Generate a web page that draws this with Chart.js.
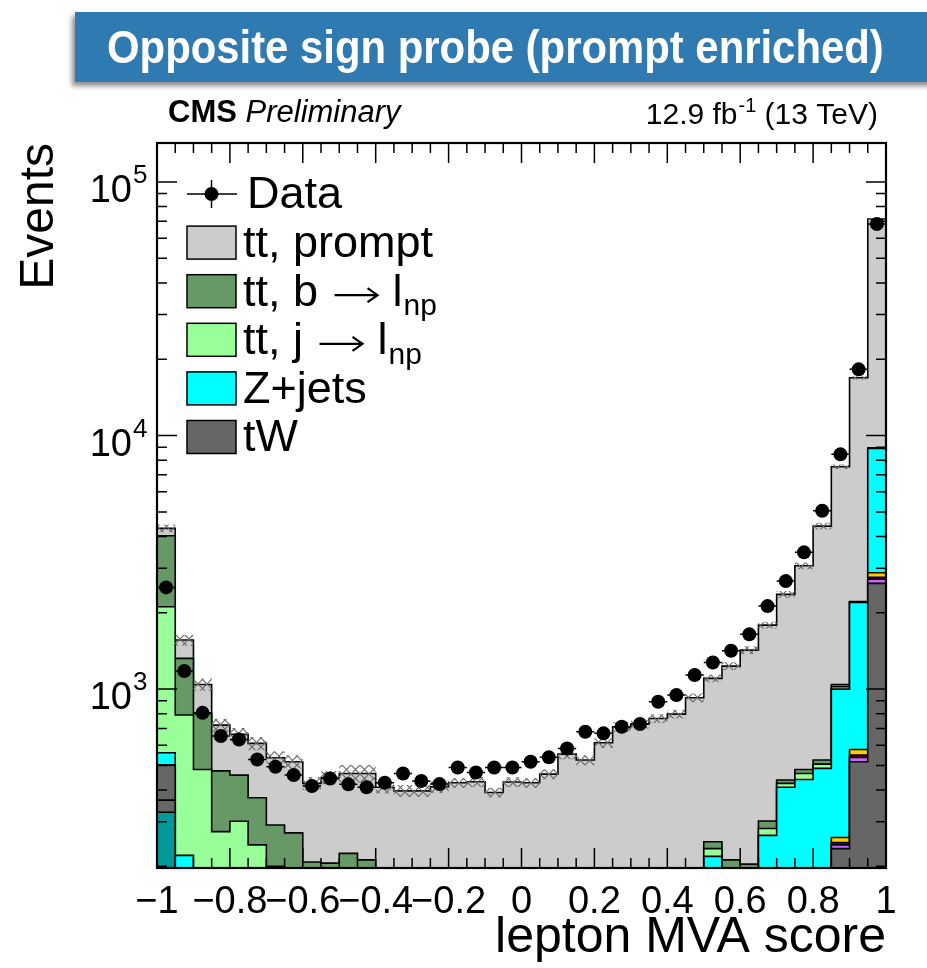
<!DOCTYPE html>
<html>
<head>
<meta charset="utf-8">
<script src="https://cdn.jsdelivr.net/npm/chart.js@4.4.1/dist/chart.umd.min.js"></script>
<style>
  html, body { margin: 0; padding: 0; background: #fff; }
  #wrap { position: relative; width: 927px; height: 968px; overflow: hidden; }
  #banner {
    position: absolute; left: 75px; top: 12px; width: 880px; height: 70px;
    background: #2f7ab0; box-shadow: -3px 4px 5px rgba(0,0,0,0.45);
    color: #fff; font: bold 46px "Liberation Sans", Arial, sans-serif; line-height: 70px;
  }
  #banner span { position: absolute; left: 32px; top: 0; white-space: nowrap; transform: scaleX(0.91); transform-origin: left center; }
  #chart { position: absolute; left: 0; top: 0; }
</style>
</head>
<body>
<div id="wrap">
  <canvas id="chart" width="927" height="968"></canvas>
  <div id="banner"><span>Opposite sign probe (prompt enriched)</span></div>
</div>
<script>
// ビン境界 (lepton MVA score)
const binEdges = [-1, -0.95, -0.9, -0.85, -0.8, -0.75, -0.7, -0.65, -0.6, -0.55,
  -0.5, -0.45, -0.4, -0.35, -0.3, -0.25, -0.2, -0.15, -0.1, -0.05,
  0, 0.05, 0.1, 0.15, 0.2, 0.25, 0.3, 0.35, 0.4, 0.45,
  0.5, 0.55, 0.6, 0.65, 0.7, 0.75, 0.8, 0.85, 0.9, 0.95, 1];
const xMajorTicks = [-1, -0.8, -0.6, -0.4, -0.2, 0, 0.2, 0.4, 0.6, 0.8, 1];
const yDecades = [1e3, 1e4, 1e5];
const yRange = [197, 142500];

// データ
const dataCounts = [2518, 1178, 806, 653, 633, 528, 494, 458, 415, 444,
  421, 410, 427, 465, 434, 422, 491, 469, 491, 491,
  517, 538, 583, 679, 669, 710, 728, 891, 947, 1136,
  1274, 1416, 1644, 2125, 2667, 3462, 5051, 8431, 18240, 68300];

// MC 成分 (下から積み上げ)
const otherTeal = [327, 0, 0, 0, 0, 0, 0, 0, 0, 0, 0, 0, 0, 0, 0, 0, 0, 0, 0, 0,
  0, 0, 0, 0, 0, 0, 0, 0, 0, 0, 0, 0, 0, 0, 0, 0, 0, 0, 0, 0];
const otherGrey = [38, 0, 0, 0, 0, 0, 0, 0, 0, 0, 0, 0, 0, 0, 0, 0, 0, 0, 0, 0,
  0, 0, 0, 0, 0, 0, 0, 0, 0, 0, 0, 0, 0, 0, 0, 0, 0, 0, 0, 0];
const tW = [136, 70, 0, 0, 0, 0, 0, 0, 0, 0, 0, 0, 0, 0, 0, 0, 0, 0, 0, 0,
  0, 0, 0, 0, 0, 0, 0, 0, 0, 0, 30, 0, 0, 30, 40, 50, 80, 235, 517, 2612];
const otherViolet = [0, 0, 0, 0, 0, 0, 0, 0, 0, 0, 0, 0, 0, 0, 0, 0, 0, 0, 0, 0,
  0, 0, 0, 0, 0, 0, 0, 0, 0, 0, 0, 0, 0, 0, 0, 0, 0, 8, 21, 104];
const otherRed = [0, 0, 0, 0, 0, 0, 0, 0, 0, 0, 0, 0, 0, 0, 0, 0, 0, 0, 0, 0,
  0, 0, 0, 0, 0, 0, 0, 0, 0, 0, 0, 0, 0, 0, 0, 0, 0, 5, 11, 42];
const otherOrange = [0, 0, 0, 0, 0, 0, 0, 0, 0, 0, 0, 0, 0, 0, 0, 0, 0, 0, 0, 0,
  0, 0, 0, 0, 0, 0, 0, 0, 0, 0, 0, 0, 0, 0, 0, 0, 0, 12, 29, 118];
const zJets = [60, 151, 0, 0, 0, 0, 0, 0, 0, 0, 0, 0, 0, 0, 0, 0, 0, 0, 0, 0,
  20, 30, 40, 50, 60, 70, 90, 110, 130, 150, 189, 150, 160, 235, 370, 390, 407, 740, 1620, 6027];
const ttJet = [1551, 569, 482, 274, 301, 243, 200, 110, 90, 80, 70, 60, 50, 40, 40, 30, 30, 30, 25, 25,
  25, 25, 25, 25, 25, 25, 25, 25, 20, 20, 16, 30, 20, 17, 15, 25, 19, 21, 10, 20];
const ttB = [1913, 532, 320, 202, 157, 130, 91, 161, 118, 126, 155, 152, 100, 90, 80, 80, 70, 60, 55, 55,
  50, 50, 50, 50, 50, 50, 50, 45, 40, 20, 15, 32, 24, 20, 13, 17, 19, 22, 8, 20];
const ttPrompt = [280, 239, 241, 245, 205, 238, 245, 246, 217, 242, 240, 253, 260, 267, 277, 302, 327, 341, 311, 350,
  332, 357, 439, 400, 479, 565, 563, 586, 607, 734, 852, 1020, 1221, 1486, 1926, 2582, 3870, 6489, 14684, 62507];
// MC 統計誤差 (相対)
const mcRelUnc = [0.035, 0.05, 0.055, 0.06, 0.06, 0.06, 0.06, 0.06, 0.06, 0.06,
  0.08, 0.08, 0.055, 0.055, 0.055, 0.055, 0.045, 0.045, 0.045, 0.045,
  0.045, 0.045, 0.045, 0.045, 0.045, 0.045, 0.04, 0.04, 0.04, 0.04,
  0.035, 0.035, 0.035, 0.03, 0.03, 0.03, 0.03, 0.02, 0.015, 0.01];

document.addEventListener('DOMContentLoaded', function() {
    const FONT = '"Liberation Sans", Arial, Helvetica, "DejaVu Sans", sans-serif';
    const FLOOR = 1; // ログ軸で 0 を描かないための下限
    const nBins = dataCounts.length;

    const layers = [
        { values: otherTeal, color: '#009999' },
        { values: otherGrey, color: '#666666' },
        { values: tW, color: '#666666' },
        { values: otherViolet, color: '#cc66ff' },
        { values: otherRed, color: '#990000' },
        { values: otherOrange, color: '#ffcc00' },
        { values: zJets, color: '#00ffff' },
        { values: ttJet, color: '#99ff99' },
        { values: ttB, color: '#669966' },
        { values: ttPrompt, color: '#cccccc' }
    ];

    const legendItems = [
        { text: 'tt, prompt', color: '#cccccc' },
        { text: 'tt, b', arrow: true, sub: 'np', color: '#669966' },
        { text: 'tt, j', arrow: true, sub: 'np', color: '#99ff99' },
        { text: 'Z+jets', color: '#00ffff' },
        { text: 'tW', color: '#666666' }
    ];

    /**
     * ビン値をステップ線用の点列にする
     */
    function stepPoints(arr) {
        return binEdges.map((e, i) => ({ x: e, y: Math.max(arr[Math.min(i, nBins - 1)], FLOOR) }));
    }

    /**
     * ハッチ模様を作る
     */
    function makeHatch() {
        const c = document.createElement('canvas');
        c.width = 9; c.height = 9;
        const g = c.getContext('2d');
        g.strokeStyle = '#6a6a6a';
        g.lineWidth = 1.2;
        g.beginPath();
        g.moveTo(0, 0); g.lineTo(9, 9);
        g.moveTo(9, 0); g.lineTo(0, 9);
        g.stroke();
        return g.createPattern(c, 'repeat');
    }

    // 積み上げ
    let running = new Array(nBins).fill(0);
    const cumul = layers.map(l => {
        running = running.map((s, i) => s + l.values[i]);
        return running.slice();
    });
    const total = cumul[cumul.length - 1];

    const datasets = [];
    datasets.push({
        data: dataCounts.map((n, i) => ({ x: (binEdges[i] + binEdges[i + 1]) / 2, y: n })),
        showLine: false,
        pointRadius: 7,
        pointBackgroundColor: '#000',
        pointBorderColor: '#000',
        pointBorderWidth: 0,
        order: 0
    });
    datasets.push({
        data: stepPoints(total.map((t, i) => t * (1 + mcRelUnc[i]))),
        stepped: 'before',
        borderWidth: 0,
        pointRadius: 0,
        fill: '+1',
        backgroundColor: makeHatch(),
        order: 1
    });
    datasets.push({
        data: stepPoints(total.map((t, i) => t * (1 - mcRelUnc[i]))),
        stepped: 'before',
        borderWidth: 0,
        pointRadius: 0,
        fill: false,
        order: 2
    });
    layers.forEach((l, k) => {
        datasets.push({
            data: stepPoints(cumul[k]),
            stepped: 'before',
            borderColor: '#000',
            borderWidth: 1.6,
            pointRadius: 0,
            fill: 'start',
            backgroundColor: l.color,
            order: 3 + k
        });
    });

    // ROOT 風の目盛り・凡例・ラベル
    const rootDecor = {
        id: 'rootDecor',
        afterDatasetsDraw(chart) {
            const { ctx, chartArea: a, scales: { x, y } } = chart;
            ctx.save();
            ctx.strokeStyle = '#000';

            // データ誤差棒
            ctx.lineWidth = 1.5;
            dataCounts.forEach((n, i) => {
                const yc = y.getPixelForValue(n);
                const x0 = x.getPixelForValue(binEdges[i]);
                const x1 = x.getPixelForValue(binEdges[i + 1]);
                const xc = (x0 + x1) / 2;
                const e = Math.sqrt(n);
                ctx.beginPath();
                ctx.moveTo(x0, yc); ctx.lineTo(x1, yc);
                ctx.moveTo(xc, y.getPixelForValue(n + e)); ctx.lineTo(xc, y.getPixelForValue(n - e));
                ctx.stroke();
            });

            // x 目盛り
            ctx.lineWidth = 1.5;
            ctx.beginPath();
            binEdges.forEach(e => {
                const px = x.getPixelForValue(e);
                const len = xMajorTicks.some(t => Math.abs(t - e) < 1e-9) ? 20 : 10;
                ctx.moveTo(px, a.bottom); ctx.lineTo(px, a.bottom - len);
                ctx.moveTo(px, a.top); ctx.lineTo(px, a.top + len);
            });
            // y 目盛り
            for (let p = 2; p <= 5; p++) {
                for (let k = 1; k <= 9; k++) {
                    const v = k * Math.pow(10, p);
                    if (v < yRange[0] || v > yRange[1]) continue;
                    const py = y.getPixelForValue(v);
                    const len = k === 1 ? 20 : 10;
                    ctx.moveTo(a.left, py); ctx.lineTo(a.left + len, py);
                    ctx.moveTo(a.right, py); ctx.lineTo(a.right - len, py);
                }
            }
            ctx.stroke();

            // 枠
            ctx.lineWidth = 2.2;
            ctx.strokeRect(a.left, a.top, a.right - a.left, a.bottom - a.top);
            ctx.restore();
        },
        afterDraw(chart) {
            const { ctx, scales: { y } } = chart;
            ctx.save();
            ctx.fillStyle = '#000';
            ctx.strokeStyle = '#000';

            // y ラベル 10^n
            yDecades.forEach(v => {
                const py = y.getPixelForValue(v);
                ctx.font = '38px ' + FONT;
                ctx.textAlign = 'right';
                ctx.textBaseline = 'alphabetic';
                ctx.fillText('10', 132, py + 20);
                ctx.font = '26px ' + FONT;
                ctx.textAlign = 'left';
                ctx.fillText(String(Math.round(Math.log10(v))), 133, py + 1);
            });

            // CMS Preliminary
            ctx.textAlign = 'left';
            ctx.textBaseline = 'alphabetic';
            ctx.font = 'bold 31px ' + FONT;
            ctx.fillText('CMS', 168, 122);
            const cmsW = ctx.measureText('CMS ').width;
            ctx.font = 'italic 31px ' + FONT;
            ctx.fillText('Preliminary', 168 + cmsW, 122);

            // ルミノシティ
            const p1 = '12.9 fb', p2 = '-1', p3 = ' (13 TeV)';
            ctx.font = '30px ' + FONT;
            const w1 = ctx.measureText(p1).width, w3 = ctx.measureText(p3).width;
            ctx.font = '20px ' + FONT;
            const w2 = ctx.measureText(p2).width;
            let tx = 877 - (w1 + w2 + w3);
            ctx.font = '30px ' + FONT;
            ctx.fillText(p1, tx, 124);
            ctx.font = '20px ' + FONT;
            ctx.fillText(p2, tx + w1 + 1, 112);
            ctx.font = '30px ' + FONT;
            ctx.fillText(p3, tx + w1 + w2 + 1, 124);

            // 凡例
            const boxL = 187, boxW = 49, boxH = 33, textX = 243;
            const rowY0 = 194, rowStep = 48.6;
            ctx.lineWidth = 1.5;
            ctx.beginPath();
            ctx.moveTo(boxL, rowY0); ctx.lineTo(boxL + boxW + 1, rowY0);
            ctx.moveTo(boxL + boxW / 2, rowY0 - 14); ctx.lineTo(boxL + boxW / 2, rowY0 + 14);
            ctx.stroke();
            ctx.beginPath();
            ctx.arc(boxL + boxW / 2, rowY0, 7, 0, Math.PI * 2);
            ctx.fill();
            ctx.font = '45px ' + FONT;
            ctx.textBaseline = 'middle';
            ctx.fillText('Data', textX + 4, rowY0 + 2);

            legendItems.forEach((it, i) => {
                const cy = rowY0 + rowStep * (i + 1);
                ctx.fillStyle = it.color;
                ctx.fillRect(boxL, cy - boxH / 2, boxW, boxH);
                ctx.strokeStyle = '#000';
                ctx.lineWidth = 1.5;
                ctx.strokeRect(boxL, cy - boxH / 2, boxW, boxH);
                ctx.fillStyle = '#000';
                ctx.font = '45px ' + FONT;
                ctx.textBaseline = 'middle';
                ctx.fillText(it.text, textX, cy + 2);
                if (it.arrow) {
                    // 矢印と l_np
                    let ax = textX + ctx.measureText(it.text + ' ').width + 4;
                    ctx.lineWidth = 2.2;
                    ctx.beginPath();
                    ctx.moveTo(ax, cy + 4); ctx.lineTo(ax + 42, cy + 4);
                    ctx.moveTo(ax + 33, cy - 3); ctx.lineTo(ax + 43, cy + 4); ctx.lineTo(ax + 33, cy + 11);
                    ctx.stroke();
                    ax += 58;
                    ctx.fillText('l', ax, cy + 2);
                    const w = ctx.measureText('l').width;
                    ctx.font = '30px ' + FONT;
                    ctx.fillText(it.sub, ax + w + 1, cy + 16);
                }
            });
            ctx.restore();
        }
    };

    new Chart(document.getElementById('chart'), {
        type: 'line',
        data: { datasets: datasets },
        options: {
            responsive: false,
            animation: false,
            layout: { padding: { left: 0, right: 41, top: 143, bottom: 0 } },
            plugins: { legend: { display: false }, tooltip: { enabled: false } },
            scales: {
                x: {
                    type: 'linear',
                    min: -1,
                    max: 1,
                    grid: { display: false, drawTicks: false },
                    border: { display: false },
                    ticks: {
                        stepSize: 0.2,
                        autoSkip: false,
                        maxRotation: 0,
                        padding: 12,
                        color: '#000',
                        font: { family: FONT, size: 38 },
                        callback: function(v) {
                            const r = Math.round(v * 10) / 10;
                            return r < 0 ? '\u2212' + String(-r) : String(r);
                        }
                    },
                    title: {
                        display: true,
                        text: 'lepton MVA score',
                        align: 'end',
                        color: '#000',
                        font: { family: FONT, size: 50 },
                        padding: { top: 0, bottom: 0 }
                    },
                    afterFit: function(s) { s.height = 100; }
                },
                y: {
                    type: 'logarithmic',
                    min: yRange[0],
                    max: yRange[1],
                    grid: { display: false, drawTicks: false },
                    border: { display: false },
                    ticks: { display: false },
                    title: {
                        display: true,
                        text: 'Events',
                        align: 'end',
                        color: '#000',
                        font: { family: FONT, size: 48 },
                        padding: { top: 11, bottom: 0 }
                    },
                    afterFit: function(s) { s.width = 157; }
                }
            }
        },
        plugins: [rootDecor]
    });
});
</script>
</body>
</html>
